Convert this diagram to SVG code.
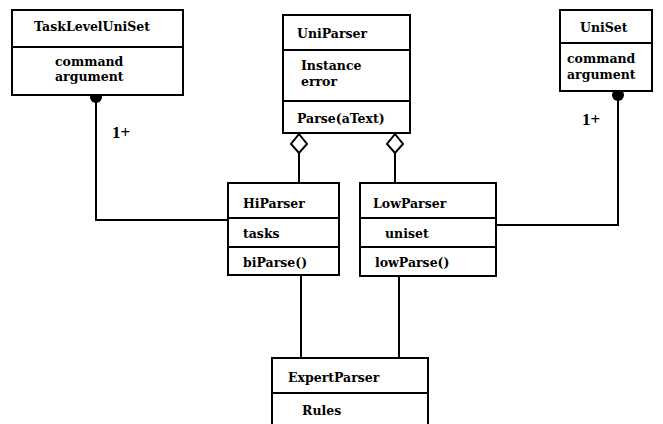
<svg xmlns="http://www.w3.org/2000/svg" width="663" height="424" viewBox="0 0 663 424">
  <style>
    .box { fill: #fff; stroke: #000; stroke-width: 2; }
    .div { stroke: #000; stroke-width: 2; fill: none; }
    .wire { stroke: #000; stroke-width: 2; fill: none; }
    .t { font-family: "DejaVu Serif", "Liberation Serif", serif; font-weight: bold; font-size: 12.5px; fill: #000; }
    .m { font-family: "Liberation Serif", "Times New Roman", serif; font-weight: bold; font-size: 17px; fill: #000; }
  </style>
  <rect width="663" height="424" fill="#fff"/>

  <!-- connectors -->
  <g id="connectors">
    <!-- TaskLevelUniSet to HiParser -->
    <polyline class="wire" points="96,97 96,220 228,220"/>
    <circle cx="96" cy="97" r="6" fill="#000"/>
    <text class="m" x="112" y="138">1+</text>
    <!-- UniSet to LowParser -->
    <polyline class="wire" points="618,95 618,225 496,225"/>
    <circle cx="618" cy="95" r="6" fill="#000"/>
    <text class="m" x="582" y="125">1+</text>
    <!-- UniParser aggregates HiParser and LowParser -->
    <line class="wire" x1="299" y1="153" x2="299" y2="183"/>
    <polygon points="299,134 307,144 299,153 291,144" fill="#fff" stroke="#000" stroke-width="2"/>
    <line class="wire" x1="395" y1="153" x2="395" y2="183"/>
    <polygon points="395,134 403,144 395,153 387,144" fill="#fff" stroke="#000" stroke-width="2"/>
    <!-- parsers to ExpertParser -->
    <line class="wire" x1="301" y1="275" x2="301" y2="358"/>
    <line class="wire" x1="399" y1="276" x2="399" y2="358"/>
  </g>

  <g id="TaskLevelUniSet">
    <rect class="box" x="12" y="10" width="171" height="85"/>
    <line class="div" x1="12" y1="47" x2="183" y2="47"/>
    <text class="t" x="34" y="31">TaskLevelUniSet</text>
    <text class="t" x="55" y="66">command</text>
    <text class="t" x="55" y="81">argument</text>
  </g>

  <g id="UniParser">
    <rect class="box" x="283" y="15" width="127" height="118"/>
    <line class="div" x1="283" y1="50" x2="410" y2="50"/>
    <line class="div" x1="283" y1="101" x2="410" y2="101"/>
    <text class="t" x="297" y="38">UniParser</text>
    <text class="t" x="301" y="70">Instance</text>
    <text class="t" x="301" y="86">error</text>
    <text class="t" x="297" y="123">Parse(aText)</text>
  </g>

  <g id="UniSet">
    <rect class="box" x="560" y="10" width="92" height="81"/>
    <line class="div" x1="560" y1="43" x2="652" y2="43"/>
    <text class="t" x="580" y="32">UniSet</text>
    <text class="t" x="567" y="63">command</text>
    <text class="t" x="567" y="79">argument</text>
  </g>

  <g id="HiParser">
    <rect class="box" x="228" y="183" width="111" height="92"/>
    <line class="div" x1="228" y1="218" x2="339" y2="218"/>
    <line class="div" x1="228" y1="247" x2="339" y2="247"/>
    <text class="t" x="243" y="208">HiParser</text>
    <text class="t" x="243" y="238">tasks</text>
    <text class="t" x="243" y="267">biParse()</text>
  </g>

  <g id="LowParser">
    <rect class="box" x="360" y="183" width="136" height="93"/>
    <line class="div" x1="360" y1="218" x2="496" y2="218"/>
    <line class="div" x1="360" y1="247" x2="496" y2="247"/>
    <text class="t" x="373" y="208">LowParser</text>
    <text class="t" x="385" y="238">uniset</text>
    <text class="t" x="375" y="267">lowParse()</text>
  </g>

  <g id="ExpertParser">
    <rect class="box" x="272" y="358" width="156" height="80"/>
    <line class="div" x1="272" y1="393" x2="428" y2="393"/>
    <text class="t" x="288" y="382">ExpertParser</text>
    <text class="t" x="302" y="415">Rules</text>
  </g>
</svg>
